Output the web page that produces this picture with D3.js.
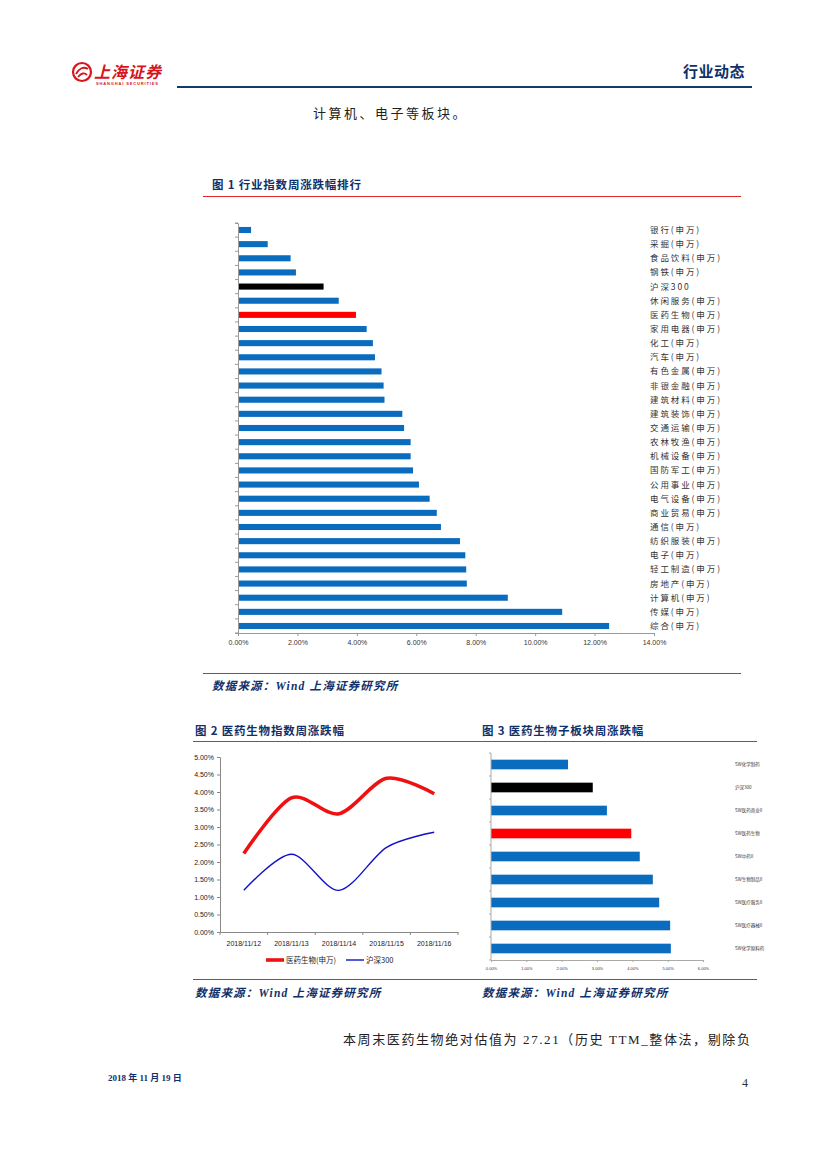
<!DOCTYPE html>
<html>
<head>
<meta charset="utf-8">
<script src="https://cdn.jsdelivr.net/npm/d3@7"></script>
<style>
  body { margin: 0; background: #fff; }
  svg { display: block; }
</style>
</head>
<body>
<svg id="page" width="827" height="1169"></svg>
<script>
// chart 1: weekly change by industry index
const industries = ['银行(申万)', '采掘(申万)', '食品饮料(申万)', '钢铁(申万)', '沪深300', '休闲服务(申万)',
  '医药生物(申万)', '家用电器(申万)', '化工(申万)', '汽车(申万)', '有色金属(申万)', '非银金融(申万)',
  '建筑材料(申万)', '建筑装饰(申万)', '交通运输(申万)', '农林牧渔(申万)', '机械设备(申万)', '国防军工(申万)',
  '公用事业(申万)', '电气设备(申万)', '商业贸易(申万)', '通信(申万)', '纺织服装(申万)', '电子(申万)',
  '轻工制造(申万)', '房地产(申万)', '计算机(申万)', '传媒(申万)', '综合(申万)'];
const industryChange = [0.44, 1.00, 1.77, 1.95, 2.88, 3.39, 3.97, 4.33, 4.54, 4.61, 4.83, 4.90,
  4.93, 5.53, 5.59, 5.81, 5.81, 5.89, 6.09, 6.45, 6.69, 6.83, 7.47, 7.65, 7.68, 7.70, 9.08, 10.91, 12.49];
const industryTicks = [0, 2, 4, 6, 8, 10, 12, 14];

// chart 2: daily cumulative change
const dates = ['2018/11/12', '2018/11/13', '2018/11/14', '2018/11/15', '2018/11/16'];
const pharmaSeries = [2.24, 3.83, 3.38, 4.39, 3.95];
const hs300Series = [1.19, 2.22, 1.19, 2.42, 2.85];
const lineTicks = [0, 0.5, 1, 1.5, 2, 2.5, 3, 3.5, 4, 4.5, 5];

// chart 3: sub sectors
const subSectors = ['SW化学制药', '沪深300', 'SW医药商业II', 'SW医药生物', 'SW中药II',
  'SW生物制品II', 'SW医疗服务II', 'SW医疗器械II', 'SW化学原料药'];
const subChange = [2.18, 2.88, 3.28, 3.97, 4.21, 4.58, 4.76, 5.07, 5.09];
const subTicks = [0, 1, 2, 3, 4, 5, 6];

const navy = '#10306a';
const red = '#e0262b';
const barBlue = '#0a6cbf';
const cjk = '"Noto Sans CJK SC", "Noto Sans", sans-serif';
const latin = '"Liberation Sans", Arial, sans-serif';
const serif = '"Liberation Serif", "Noto Sans CJK SC", serif';

const svg = d3.select('#page');

function barColor(name) {
    if (name.indexOf('沪深300') >= 0) return '#000';
    if (name.indexOf('医药生物') >= 0) return '#ff0000';
    return barBlue;
}

// ---------- page furniture ----------
const logo = svg.append('g').attr('transform', 'translate(72, 62)');
logo.append('circle').attr('cx', 10).attr('cy', 10).attr('r', 9)
    .attr('fill', 'none').attr('stroke', '#d8141c').attr('stroke-width', 2.2);
logo.append('path').attr('d', 'M4,12 Q9,3 16,7 M6,15 Q11,9 15,13')
    .attr('fill', 'none').attr('stroke', '#d8141c').attr('stroke-width', 1.8);
logo.append('text').attr('x', 22).attr('y', 16)
    .attr('font-family', cjk).attr('font-weight', 700).attr('font-size', 16)
    .attr('font-style', 'italic').attr('fill', '#d8141c').attr('letter-spacing', 1)
    .text('上海证券');
logo.append('text').attr('x', 24).attr('y', 23)
    .attr('font-family', latin).attr('font-weight', 700).attr('font-size', 4)
    .attr('fill', '#d8141c').attr('textLength', 62)
    .text('SHANGHAI SECURITIES');

svg.append('line').attr('x1', 177).attr('x2', 752).attr('y1', 87).attr('y2', 87)
    .attr('stroke', '#123a6b').attr('stroke-width', 2.2);
svg.append('text').attr('x', 745).attr('y', 77).attr('text-anchor', 'end')
    .attr('font-family', cjk).attr('font-weight', 700).attr('font-size', 15)
    .attr('fill', navy).attr('letter-spacing', 0.5).text('行业动态');

svg.append('text').attr('x', 313).attr('y', 118)
    .attr('font-family', cjk).attr('font-size', 13).attr('fill', '#222')
    .attr('letter-spacing', 2.5).text('计算机、电子等板块。');

function title(x, y, txt) {
    svg.append('text').attr('x', x).attr('y', y)
        .attr('font-family', cjk).attr('font-weight', 700).attr('font-size', 11.5)
        .attr('letter-spacing', 0.8).attr('fill', navy).text(txt);
}
function redRule(x1, x2, y) {
    svg.append('line').attr('x1', x1).attr('x2', x2).attr('y1', y + 0.5).attr('y2', y + 0.5)
        .attr('stroke', red).attr('stroke-width', 1);
}
function source(x, y, txt) {
    svg.append('text').attr('x', x).attr('y', y)
        .attr('font-family', '"Liberation Serif", "Noto Sans CJK SC", serif')
        .attr('font-weight', 700).attr('font-style', 'italic').attr('font-size', 11.5)
        .attr('letter-spacing', 1.2).attr('fill', navy).text(txt);
}

title(212, 189, '图 1 行业指数周涨跌幅排行');
redRule(203, 741, 196);
redRule(203, 741, 673);
source(212, 690, '数据来源：Wind  上海证券研究所');

title(195, 735, '图 2 医药生物指数周涨跌幅');
redRule(193, 478, 741);
title(482, 735, '图 3 医药生物子板块周涨跌幅');
redRule(470, 757, 741);
redRule(193, 757, 979);
source(195, 997, '数据来源：Wind 上海证券研究所');
source(482, 997, '数据来源：Wind 上海证券研究所');

svg.append('text').attr('x', 343).attr('y', 1044)
    .attr('font-family', serif).attr('font-size', 13).attr('fill', '#222')
    .attr('letter-spacing', 1.6).text('本周末医药生物绝对估值为 27.21（历史 TTM_整体法，剔除负');

svg.append('text').attr('x', 108).attr('y', 1081)
    .attr('font-family', serif).attr('font-weight', 700).attr('font-size', 9)
    .attr('fill', navy).text('2018 年 11 月 19 日');
svg.append('text').attr('x', 748).attr('y', 1087).attr('text-anchor', 'end')
    .attr('font-family', serif).attr('font-size', 12).attr('fill', '#333').text('4');

// ---------- chart 1 ----------
{
    const x = d3.scaleLinear().domain([0, 14]).range([238, 654]);
    const y = d3.scaleBand().domain(industries).range([223, 633]).paddingInner(0.57).paddingOuter(0.28);
    const g = svg.append('g');

    g.selectAll('rect').data(industries).enter().append('rect')
        .attr('x', x(0))
        .attr('y', d => y(d))
        .attr('width', (d, i) => x(industryChange[i]) - x(0))
        .attr('height', y.bandwidth())
        .attr('fill', d => barColor(d));

    const yAxis = g.append('g').attr('transform', `translate(${x(0)},0)`)
        .call(d3.axisLeft(y).tickSize(3).tickFormat(''));
    yAxis.selectAll('.tick').remove();
    yAxis.selectAll('.sep').data(d3.range(industries.length + 1)).enter().append('line')
        .attr('x1', -3).attr('x2', 0)
        .attr('y1', i => 223 + i * (410 / industries.length))
        .attr('y2', i => 223 + i * (410 / industries.length))
        .attr('stroke', '#999');
    yAxis.select('.domain').attr('stroke', '#999');

    const xAxis = g.append('g').attr('transform', 'translate(0,633)')
        .call(d3.axisBottom(x).tickValues(industryTicks).tickSize(3).tickSizeOuter(0)
            .tickFormat(d => d3.format('.2f')(d) + '%'));
    xAxis.select('.domain').attr('stroke', '#999');
    xAxis.selectAll('line').attr('stroke', '#999');
    xAxis.selectAll('text').attr('font-family', latin).attr('font-size', 7).attr('fill', '#333').attr('dy', '0.9em');

    g.selectAll('.lab').data(industries).enter().append('text')
        .attr('x', 650).attr('y', d => y(d) + y.bandwidth() / 2 + 3)
        .attr('font-family', cjk).attr('font-size', 8.5).attr('letter-spacing', 1.9)
        .attr('fill', '#333').text(d => d);
}

// ---------- chart 2 ----------
{
    const x = d3.scaleBand().domain(dates).range([220, 458]);
    const y = d3.scaleLinear().domain([0, 5]).range([932, 757]);
    const g = svg.append('g');

    const yAxis = g.append('g').attr('transform', 'translate(220,0)')
        .call(d3.axisLeft(y).tickValues(lineTicks).tickSize(3).tickSizeOuter(0)
            .tickFormat(d => d3.format('.2f')(d) + '%'));
    const xAxis = g.append('g').attr('transform', 'translate(0,932)')
        .call(d3.axisBottom(x).tickSize(0).tickSizeOuter(0));
    xAxis.selectAll('.sep').data(d3.range(dates.length + 1)).enter().append('line')
        .attr('x1', i => 220 + i * x.step()).attr('x2', i => 220 + i * x.step())
        .attr('y1', 0).attr('y2', 3).attr('stroke', '#888');
    [yAxis, xAxis].forEach(a => {
        a.selectAll('.domain, line').attr('stroke', '#888');
        a.selectAll('text').attr('font-family', latin).attr('font-size', 7).attr('fill', '#222');
    });
    xAxis.selectAll('text').attr('dy', '1.6em');

    const line = d3.line()
        .x((d, i) => x(dates[i]) + x.bandwidth() / 2)
        .y(d => y(d))
        .curve(d3.curveCardinal.tension(0.1));

    g.append('path').datum(hs300Series).attr('d', line)
        .attr('fill', 'none').attr('stroke', '#1010cc').attr('stroke-width', 1.4);
    g.append('path').datum(pharmaSeries).attr('d', line)
        .attr('fill', 'none').attr('stroke', '#ee1111').attr('stroke-width', 3.6);

    const legend = g.append('g').attr('transform', 'translate(266,960)');
    legend.append('line').attr('x1', 0).attr('x2', 18).attr('stroke', '#ee1111').attr('stroke-width', 3.6);
    legend.append('text').attr('x', 20).attr('y', 3).attr('font-family', cjk).attr('font-size', 7.5)
        .attr('fill', '#222').text('医药生物(申万)');
    legend.append('line').attr('x1', 80).attr('x2', 98).attr('stroke', '#1010cc').attr('stroke-width', 1.4);
    legend.append('text').attr('x', 100).attr('y', 3).attr('font-family', cjk).attr('font-size', 7.5)
        .attr('fill', '#222').text('沪深300');
}

// ---------- chart 3 ----------
{
    const x = d3.scaleLinear().domain([0, 6]).range([491, 703]);
    const y = d3.scaleBand().domain(subSectors).range([753, 960]).paddingInner(0.58).paddingOuter(0.29);
    const g = svg.append('g');

    g.selectAll('rect').data(subSectors).enter().append('rect')
        .attr('x', x(0))
        .attr('y', d => y(d))
        .attr('width', (d, i) => x(subChange[i]) - x(0))
        .attr('height', y.bandwidth())
        .attr('fill', d => barColor(d));

    g.append('line').attr('x1', x(0)).attr('x2', x(0)).attr('y1', 753).attr('y2', 960).attr('stroke', '#aaa');
    g.selectAll('.sep').data(d3.range(subSectors.length + 1)).enter().append('line')
        .attr('x1', x(0) - 2).attr('x2', x(0))
        .attr('y1', i => 753 + i * (207 / subSectors.length))
        .attr('y2', i => 753 + i * (207 / subSectors.length))
        .attr('stroke', '#aaa');

    const xAxis = g.append('g').attr('transform', 'translate(0,960)')
        .call(d3.axisBottom(x).tickValues(subTicks).tickSize(2).tickSizeOuter(0)
            .tickFormat(d => d3.format('.2f')(d) + '%'));
    xAxis.selectAll('.domain, line').attr('stroke', '#aaa');
    xAxis.selectAll('text').attr('font-family', latin).attr('font-size', 4).attr('fill', '#333').attr('dy', '1.2em');

    g.selectAll('.lab').data(subSectors).enter().append('text')
        .attr('x', 735).attr('y', d => y(d) + y.bandwidth() / 2 + 1.5)
        .attr('font-family', cjk).attr('font-size', 4.5).attr('fill', '#333').text(d => d);
}
</script>
</body>
</html>
